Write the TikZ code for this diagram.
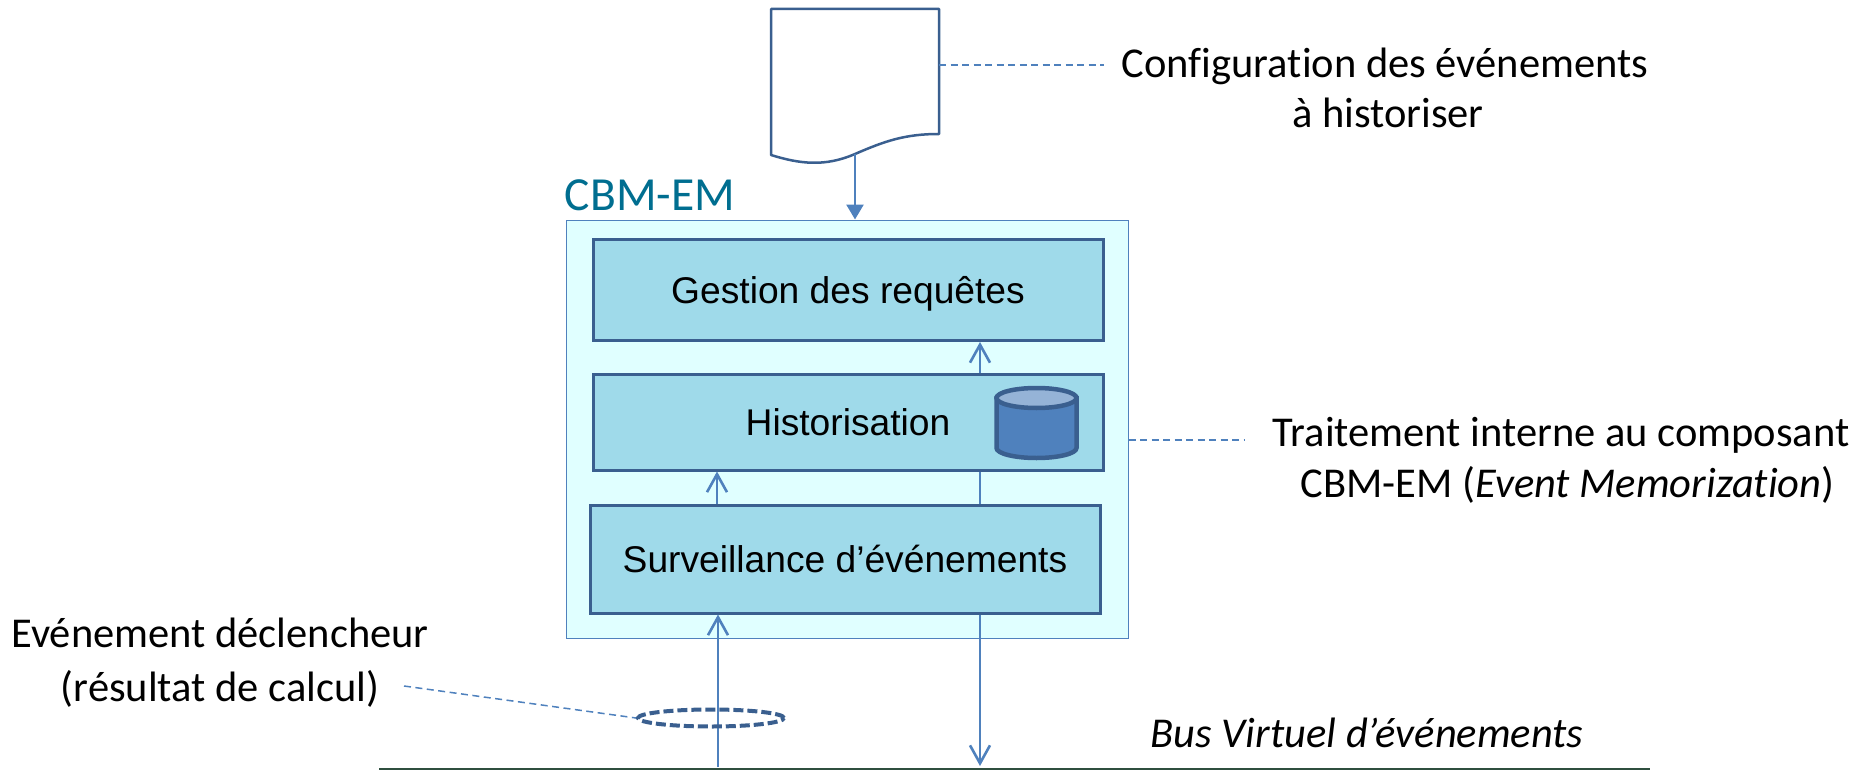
\documentclass[tikz,border=0pt]{standalone}
\usepackage{fontspec}
\setmainfont[Ligatures=NoCommon]{Carlito}
\newfontfamily\boxfont{Liberation Sans}
\usepackage{xcolor}
\usetikzlibrary{calc, arrows.meta, shapes.geometric}
\definecolor{edge}{HTML}{3A5F8F}
\definecolor{flow}{HTML}{4F81BD}
\definecolor{boxfill}{HTML}{9FDAEA}
\definecolor{compfill}{HTML}{E0FFFF}
\definecolor{comptext}{HTML}{006E90}
\definecolor{busline}{HTML}{2F4F3F}
\tikzset{
	stage/.style={draw=edge, line width=3pt, fill=boxfill, minimum width=510pt, inner sep=0pt, text height=34pt, text depth=8pt, font=\boxfont\fontsize{37.2}{44}\selectfont},
	note/.style={align=center, inner sep=0pt, font=\fontsize{42.5}{50}\selectfont},
	leader/.style={draw=flow, line width=1.5pt, dash pattern=on 7pt off 4.5pt},
	flowline/.style={draw=flow, line width=2.6pt},
	openarrow/.style={flowline, -{Straight Barb[length=18pt, width=20pt, line width=2.6pt]}}
}

\begin{document}
\begin{tikzpicture}[x=1pt, y=-1pt]
	\def\xa{717};
	\def\xb{980};
	\useasboundingbox (0,0) rectangle (1862,770);
	
	\coordinate (doc) at (855,154);
	\coordinate (docleader) at (939,65);
	\coordinate (docnote) at (1104,65);
	\coordinate (compnote) at (1245,440);
	\coordinate (eventnote) at (404,686);
	\coordinate (store) at (1036.5,398);
	
	\begin{scope}
		\node [draw=flow, line width=1pt, fill=compfill, minimum width=562pt, minimum height=418pt, inner sep=0pt] (comp) at (847,429) {};
		\node [stage, minimum height=101pt] (gestion) at (848,290) {Gestion des requêtes};
		\node [stage, minimum height=96pt] (histo) at (848,422) {Historisation};
		\node [stage, minimum height=108pt] (surv) at (845,559) {Surveillance d’événements};
		\node [text=comptext, inner sep=0pt, font=\fontsize{47.5}{56}\selectfont] (title) at (650,195) {CBM-EM};
	\end{scope}
	
	\begin{scope}
		\filldraw [draw=edge, fill=flow, line width=4.5pt] ($ (store) + (-40,0) $) -- ($ (store) + (-40,50) $) arc [start angle=180, end angle=360, x radius=40, y radius=-10] -- ($ (store) + (40,0) $) -- cycle;
		\filldraw [draw=edge, fill=flow!60!white, line width=4.5pt] (store) ellipse [x radius=40, y radius=10];
	\end{scope}
	
	\begin{scope}
		\draw [draw=edge, line width=2.5pt, fill=white, line join=round] (771,9) -- (939,9) -- (939,134) .. controls (905,134) and (885,141) .. (doc) .. controls (825,167) and (800,164) .. (771,155) -- cycle;
		\draw [flowline, -{Triangle[length=15pt, width=17pt]}] (doc) -- (doc |- comp.north);
		\draw [leader] (docleader) -- (docnote);
		\draw [leader] (comp.east |- compnote) -- (compnote);
	\end{scope}
	
	\begin{scope}
		\draw [flowline] (\xb,0 |- surv.north) -- (\xb,0 |- histo.south);
		\draw [openarrow] (\xb,0 |- histo.north) -- (\xb,0 |- gestion.south);
		\draw [openarrow] (\xa,0 |- surv.north) -- (\xa,0 |- histo.south);
		\coordinate (busup) at (718,767);
		\coordinate (busdown) at (980,766);
		\draw [openarrow] (busup) -- (busup |- surv.south);
		\draw [openarrow] (busdown |- surv.south) -- (busdown);
		\node [draw=edge, dash pattern=on 10pt off 4pt, line width=4pt, ellipse, minimum width=146pt, minimum height=17pt, inner sep=0pt] (trigger) at (711,718) {};
		\draw [leader] (eventnote) -- (trigger.west);
		\coordinate (busleft) at (379,769);
		\coordinate (busright) at (1650,769);
		\draw [busline, line width=1.5pt] (busleft) -- (busright);
	\end{scope}
	
	\begin{scope}
		\node [note] (confignote) at (1385,88) {Configuration des événements\\\hspace*{6pt}à historiser};
		\node [note, font=\fontsize{42.5}{51}\selectfont] (compnotetext) at (1561,460) {Traitement interne au composant\\\hspace*{13pt}CBM-EM (\textit{Event Memorization})};
		\node [note, font=\fontsize{42.5}{54}\selectfont] (eventnotetext) at (220,663) {Evénement déclencheur\\(résultat de calcul)};
		\node [note] (busname) at (1367,733) {\textit{Bus Virtuel d’événements}};
	\end{scope}
\end{tikzpicture}
\end{document}
